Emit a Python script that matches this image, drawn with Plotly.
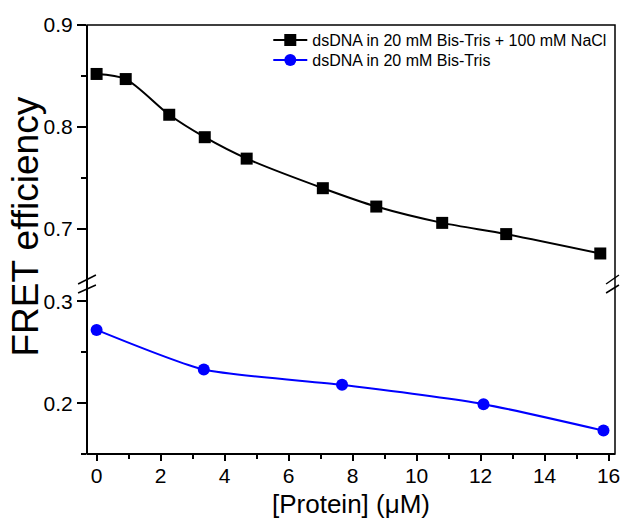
import plotly.graph_objects as go

# Data
x_nacl = [0.0, 0.91, 2.27, 3.38, 4.69, 7.07, 8.74, 10.8, 12.8, 15.74]
y_nacl = [0.852, 0.847, 0.812, 0.790, 0.769, 0.740, 0.722, 0.706, 0.695, 0.676]
x_bt = [0.0, 3.35, 7.67, 12.09, 15.84]
y_bt = [0.272, 0.233, 0.218, 0.199, 0.173]

name_nacl = "dsDNA in 20 mM Bis-Tris + 100 mM NaCl"
name_bt = "dsDNA in 20 mM Bis-Tris"
x_title = "[Protein] (μM)"
y_title = "FRET efficiency"
x_ticks = [0, 2, 4, 6, 8, 10, 12, 14, 16]

FONT = "Liberation Sans, Arial, sans-serif"

W, H = 628, 519
L, R, T, B = 87, 8, 25, 65
PW, PH = W - L - R, H - T - B

def py(pix):  # pixel y -> paper y
    return (H - B - pix) / PH

def px(pix):
    return (pix - L) / PW

up_dom = [py(280), 1.0]
lo_dom = [0.0, py(288)]

fig = go.Figure()
fig.add_trace(go.Scatter(
    x=x_nacl, y=y_nacl, name=name_nacl, yaxis="y2", legend="legend",
    mode="lines+markers", line=dict(color="black", width=2, shape="spline", smoothing=0.8),
    marker=dict(symbol="square", size=12, color="black"),
))
fig.add_trace(go.Scatter(
    x=x_bt, y=y_bt, name=name_bt, yaxis="y", legend="legend2",
    mode="lines+markers", line=dict(color="#0000FF", width=2, shape="spline", smoothing=0.6),
    marker=dict(symbol="circle", size=12, color="#0000FF"),
))

tickfont = dict(family=FONT, size=21, color="black")
legfont = dict(family=FONT, size=16, color="black")

fig.update_layout(
    width=W, height=H,
    margin=dict(l=L, r=R, t=T, b=B),
    plot_bgcolor="white", paper_bgcolor="white",
    showlegend=True,
    legend=dict(x=px(270), y=py(40), xanchor="left", yanchor="middle",
                font=legfont, bgcolor="rgba(0,0,0,0)", itemwidth=34),
    legend2=dict(x=px(270), y=py(60), xanchor="left", yanchor="middle",
                 font=legfont, bgcolor="rgba(0,0,0,0)", itemwidth=34),
    xaxis=dict(range=[-0.3, 16.2], tickvals=x_ticks, ticks="outside", ticklen=6, tickwidth=1.5,
               tickcolor="black", showgrid=False, zeroline=False, showline=False,
               tickfont=tickfont, anchor="y", ticklabelstandoff=-3,
               minor=dict(dtick=1, ticks="outside", ticklen=4, tickwidth=1.5, tickcolor="black", showgrid=False)),
    yaxis=dict(domain=lo_dom, range=[0.15, 0.15 + 166 / 1017], tickvals=[0.2, 0.3], ticktext=["0.2", "0.3"],
               ticks="outside", ticklen=9, tickwidth=1.5, tickcolor="black", showgrid=False,
               zeroline=False, showline=False, tickfont=tickfont,
               minor=dict(tickvals=[0.15, 0.25], ticks="outside", ticklen=5, tickwidth=1.5, tickcolor="black", showgrid=False)),
    yaxis2=dict(domain=up_dom, range=[0.65, 0.9], tickvals=[0.7, 0.8, 0.9], ticktext=["0.7", "0.8", "0.9"],
                ticks="outside", ticklen=9, tickwidth=1.5, tickcolor="black", showgrid=False,
                zeroline=False, showline=False, tickfont=tickfont, anchor="x",
                minor=dict(tickvals=[0.75, 0.85], ticks="outside", ticklen=5, tickwidth=1.5, tickcolor="black", showgrid=False)),
)

# frame
fig.add_shape(type="rect", xref="paper", yref="paper", x0=0, y0=0, x1=1, y1=1,
              line=dict(color="black", width=1.5), fillcolor="rgba(0,0,0,0)", layer="above")
fig.add_shape(type="line", xref="paper", yref="paper", x0=0, y0=0, x1=0, y1=1,
              line=dict(color="black", width=2), layer="above")
fig.add_shape(type="line", xref="paper", yref="paper", x0=0, y0=0, x1=1, y1=0,
              line=dict(color="black", width=2), layer="above")

# break marks
for xl, xr in [(78, 96), (611, 624)]:
    for yb, yt in [(284, 275), (293, 285)]:
        fig.add_shape(type="line", xref="paper", yref="paper",
                      x0=px(xl), y0=py(yb), x1=px(xr), y1=py(yt),
                      line=dict(color="black", width=1.5), layer="above")

fig.add_annotation(text=y_title, xref="paper", yref="paper", x=px(24), y=py(227),
                   xanchor="center", yanchor="middle", textangle=-90, showarrow=False,
                   font=dict(family=FONT, size=37, color="black"))
fig.add_annotation(text=x_title, xref="paper", yref="paper", x=px(353), y=py(504),
                   xanchor="center", yanchor="middle", showarrow=False,
                   font=dict(family=FONT, size=26, color="black"))

fig.write_html("out.html")
